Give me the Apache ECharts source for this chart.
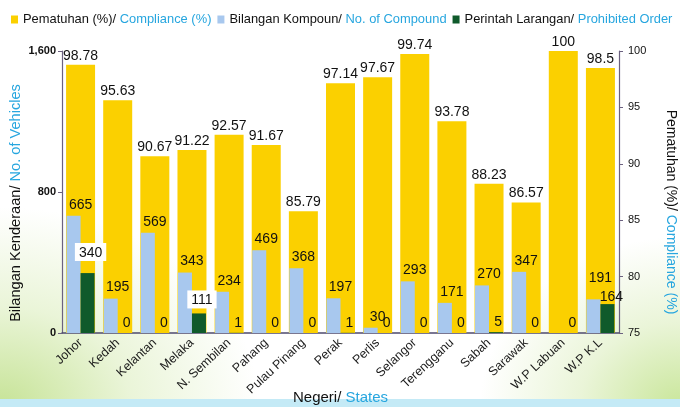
<!DOCTYPE html>
<html lang="en">
<head>
<meta charset="UTF-8">
<script src="https://cdn.jsdelivr.net/npm/echarts@6.0.0/dist/echarts.min.js"></script>
<title>Pematuhan</title>
<style>
    html, body { margin: 0; padding: 0; }
    body {
        width: 680px; height: 407px; overflow: hidden;
        background:
            linear-gradient(to bottom, rgba(255,255,255,0) 98%, #c4eaf6 98%),
            radial-gradient(ellipse 260px 200px at 0% 100%, #c6e396 0%, rgba(220,238,190,0.6) 50%, rgba(255,255,255,0) 100%),
            radial-gradient(ellipse 200px 170px at 100% 100%, #c9e69a 0%, rgba(220,238,190,0.6) 50%, rgba(255,255,255,0) 100%),
            #ffffff;
    }
    #chart { width: 680px; height: 407px; }
</style>
</head>
<body>
<div id="chart"></div>
<script type="text/javascript">
    var states = ['Johor', 'Kedah', 'Kelantan', 'Melaka', 'N. Sembilan', 'Pahang', 'Pulau Pinang', 'Perak',
        'Perlis', 'Selangor', 'Terengganu', 'Sabah', 'Sarawak', 'W.P Labuan', 'W.P K.L'];
    var compliance = [98.78, 95.63, 90.67, 91.22, 92.57, 91.67, 85.79, 97.14, 97.67, 99.74, 93.78, 88.23, 86.57, 100, 98.5];
    var compounds = [665, 195, 569, 343, 234, 469, 368, 197, 30, 293, 171, 270, 347, null, 191];
    var prohibited = [340, 0, 0, 111, 1, 0, 0, 1, 0, 0, 0, 5, 0, 0, 164];

    var blueText = '#27a6df';
    var yellow = '#fbd000';
    var lightBlue = '#a8c8ee';
    var darkGreen = '#0f5a2b';

    var names = ['Pematuhan (%)/ Compliance (%)', 'Bilangan Kompoun/ No. of Compound', 'Perintah Larangan/ Prohibited Order'];

    // labels for the green bars: boxed ones sit a bit higher
    var greenData = prohibited.map(function (v, i) {
        if (states[i] === 'Johor') {
            return { value: v, label: { distance: 12, backgroundColor: '#fff', padding: [3, 4, 1, 4], offset: [3, 0] } };
        }
        if (states[i] === 'Melaka') {
            return { value: v, label: { distance: 5, backgroundColor: '#fff', padding: [3, 4, 1, 4], offset: [3, 0] } };
        }
        if (states[i] === 'W.P K.L') {
            return { value: v, label: { distance: 0, offset: [4, 0] } };
        }
        return v;
    });
    var blueData = compounds.map(function (v, i) {
        if (states[i] === 'W.P K.L') {
            return { value: v, label: { distance: 14 } };
        }
        return v;
    });

    var chart = echarts.init(document.getElementById('chart'));
    var option = {
        backgroundColor: 'transparent',
        textStyle: { fontFamily: 'Liberation Sans, Arial, sans-serif' },
        legend: {
            left: 6,
            top: 8,
            itemWidth: 7,
            itemHeight: 8,
            itemGap: 6,
            icon: 'rect',
            data: names,
            formatter: function (name) {
                var p = name.split('/ ');
                return '{a|' + p[0] + '/ }{b|' + p[1] + '}';
            },
            textStyle: {
                rich: {
                    a: { fontSize: 12.9, color: '#111' },
                    b: { fontSize: 12.9, color: blueText }
                }
            }
        },
        grid: { left: 62, right: 61, top: 51, bottom: 74, containLabel: false, outerBoundsMode: 'none' },
        xAxis: [
            {
                type: 'category',
                data: states,
                name: '{a|Negeri/ }{b|States}',
                nameLocation: 'middle',
                nameGap: 57,
                nameMoveOverlap: false,
                nameTextStyle: {
                    rich: {
                        a: { fontSize: 15, color: '#111' },
                        b: { fontSize: 15, color: blueText }
                    }
                },
                axisLine: { lineStyle: { color: '#4e4a6e', width: 1.5 } },
                axisTick: { alignWithLabel: true, length: 4, lineStyle: { color: '#4e4a6e' } },
                axisLabel: { rotate: 43, fontSize: 12.5, color: '#1a1a1a', margin: 8, interval: 0 }
            },
            {
                type: 'category',
                data: states,
                show: false
            }
        ],
        yAxis: [
            {
                type: 'value',
                min: 0,
                max: 1600,
                interval: 800,
                name: '{a|Bilangan Kenderaan/ }{b|No. of Vehicles}',
                nameLocation: 'middle',
                nameRotate: 90,
                nameGap: 39,
                nameMoveOverlap: false,
                nameTextStyle: {
                    padding: [0, 22, 0, 0],
                    rich: {
                        a: { fontSize: 14.6, color: '#111' },
                        b: { fontSize: 14.6, color: blueText }
                    }
                },
                splitLine: { show: false },
                axisLine: { show: true, lineStyle: { color: '#6b6180', width: 1.2 } },
                axisTick: { show: true, length: 4, lineStyle: { color: '#6b6180' } },
                axisLabel: {
                    fontSize: 11, fontWeight: 'bold', color: '#111', margin: 6,
                    formatter: function (v) { return v.toLocaleString('en-US'); }
                }
            },
            {
                type: 'value',
                min: 75,
                max: 100,
                interval: 5,
                position: 'right',
                name: '{a|Pematuhan (%)/ }{b|Compliance (%)}',
                nameLocation: 'middle',
                nameRotate: -90,
                nameGap: 45,
                nameMoveOverlap: false,
                nameTextStyle: {
                    padding: [0, 0, 0, 40],
                    rich: {
                        a: { fontSize: 14, color: '#111' },
                        b: { fontSize: 14, color: blueText }
                    }
                },
                splitLine: { show: false },
                axisLine: { show: true, lineStyle: { color: '#6b6180', width: 1.2 } },
                axisTick: { show: true, length: 4, lineStyle: { color: '#6b6180' } },
                axisLabel: { fontSize: 11, color: '#111', margin: 9 }
            }
        ],
        series: [
            {
                name: names[0],
                type: 'bar',
                xAxisIndex: 0,
                yAxisIndex: 1,
                barWidth: 29,
                itemStyle: { color: yellow },
                label: { show: true, position: 'top', distance: 2, fontSize: 14, color: '#111' },
                data: compliance
            },
            {
                name: names[1],
                type: 'bar',
                xAxisIndex: 1,
                yAxisIndex: 0,
                barWidth: 14,
                barGap: '0%',
                itemStyle: { color: lightBlue },
                label: { show: true, position: 'top', distance: 4, offset: [7, 0], fontSize: 14, color: '#111' },
                data: blueData
            },
            {
                name: names[2],
                type: 'bar',
                xAxisIndex: 1,
                yAxisIndex: 0,
                barWidth: 14,
                barGap: '0%',
                itemStyle: { color: darkGreen },
                label: { show: true, position: 'top', distance: 3, offset: [2, 0], fontSize: 14, color: '#111' },
                data: greenData
            }
        ]
    };
    chart.setOption(option);
</script>
</body>
</html>
